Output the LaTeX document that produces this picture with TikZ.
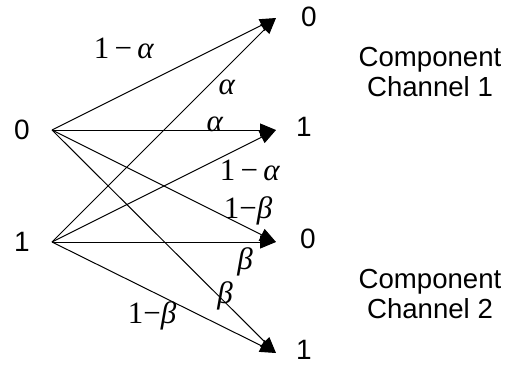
\documentclass[tikz,border=0pt]{standalone}
\usepackage{fontspec}
\setmainfont{Liberation Sans}
\newfontfamily\tms{Liberation Serif}
\usetikzlibrary{arrows.meta}
\tikzset{
  edge/.style={line width=0.5pt,-{Triangle[length=8pt,width=6.5pt]}},
  sym/.style={font=\fontsize{14}{16}\selectfont,inner sep=0pt},
  comp/.style={font=\fontsize{13.8}{16}\selectfont,align=center,inner sep=0pt},
  prob/.style={font=\fontsize{15.5}{18}\tms,inner sep=0pt},
}
\begin{document}
\begin{tikzpicture}[x=0.5pt,y=-0.5pt]
\useasboundingbox (0,0) rectangle (515,372);
% sources and sinks
\coordinate (s0) at (52,130);
\coordinate (s1) at (52,242);
\coordinate (o0) at (276,18);
\coordinate (o1) at (276,130);
\coordinate (o2) at (276,242);
\coordinate (o3) at (276,353);
% symbol labels
\node[sym] (ls0) at (22,130) {0};
\node[sym] (ls1) at (22,242) {1};
\node[sym] (lo0) at (309,17) {0};
\node[sym] (lo1) at (304,127) {1};
\node[sym] (lo2) at (308,239) {0};
\node[sym] (lo3) at (304,350) {1};
\node[comp] (c1) at (430,72) {Component\\[-1pt]Channel 1};
\node[comp] (c2) at (430,294) {Component\\[-1pt]Channel 2};
% edges
\draw[edge] (s0) -- (o0);
\draw[edge] (s0) -- (o1);
\draw[edge] (s0) -- (o2);
\draw[edge] (s0) -- (o3);
\draw[edge] (s1) -- (o0);
\draw[edge] (s1) -- (o1);
\draw[edge] (s1) -- (o2);
\draw[edge] (s1) -- (o3);
% probabilities
\node[prob] (p1) at (124,48) {1\,−\,\textit{α}};
\node[prob] (p2) at (227,87) {\textit{α}};
\node[prob] (p3) at (215,124) {\textit{α}};
\node[prob] (p4) at (250,170) {1\,−\,\textit{α}};
\node[prob] (p5) at (248,211) {1−\textit{β}};
\node[prob] (p6) at (245,262) {\textit{β}};
\node[prob] (p7) at (225,296) {\textit{β}};
\node[prob] (p8) at (152,316) {1−\textit{β}};
\end{tikzpicture}
\end{document}
